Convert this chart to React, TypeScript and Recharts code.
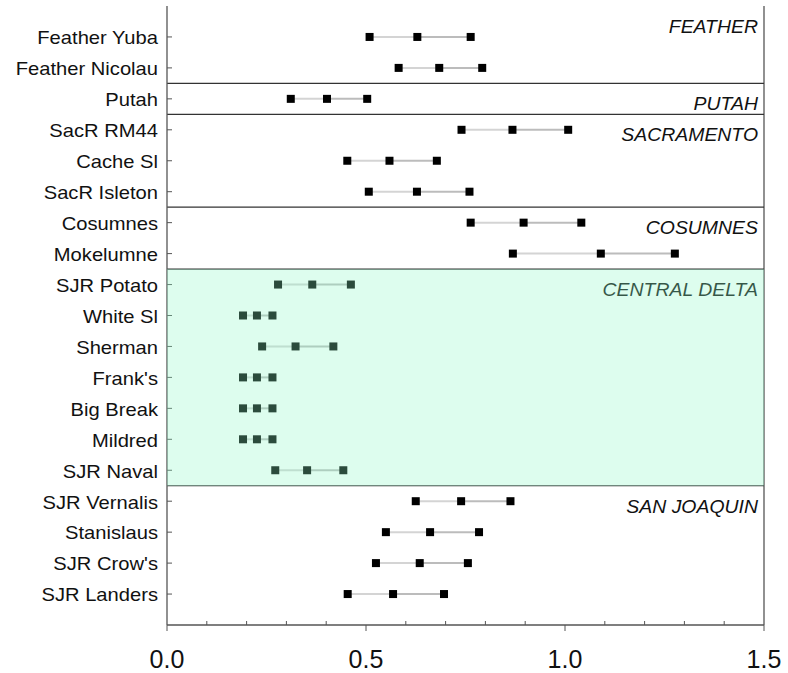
import React from "react";
import {
  ScatterChart,
  Scatter,
  XAxis,
  YAxis,
  ReferenceLine,
  ReferenceArea,
} from "recharts";

const sites = [
  "Feather Yuba",
  "Feather Nicolau",
  "Putah",
  "SacR RM44",
  "Cache Sl",
  "SacR Isleton",
  "Cosumnes",
  "Mokelumne",
  "SJR Potato",
  "White Sl",
  "Sherman",
  "Frank's",
  "Big Break",
  "Mildred",
  "SJR Naval",
  "SJR Vernalis",
  "Stanislaus",
  "SJR Crow's",
  "SJR Landers",
];

const lowVals = [0.509, 0.582, 0.311, 0.74, 0.453, 0.507, 0.763, 0.869, 0.279, 0.191, 0.239, 0.191, 0.191, 0.191, 0.272, 0.625, 0.55, 0.525, 0.454];
const midVals = [0.629, 0.684, 0.402, 0.868, 0.559, 0.628, 0.896, 1.09, 0.365, 0.226, 0.323, 0.226, 0.226, 0.226, 0.352, 0.739, 0.661, 0.635, 0.568];
const highVals = [0.763, 0.792, 0.503, 1.008, 0.678, 0.76, 1.041, 1.276, 0.462, 0.265, 0.418, 0.265, 0.265, 0.265, 0.443, 0.863, 0.784, 0.756, 0.696];

const xTicks = [0, 0.1, 0.2, 0.3, 0.4, 0.5, 0.6, 0.7, 0.8, 0.9, 1.0, 1.1, 1.2, 1.3, 1.4, 1.5];
const xLabels = ["0.0", "0.5", "1.0", "1.5"];

const groupNames = ["FEATHER", "PUTAH", "SACRAMENTO", "COSUMNES", "CENTRAL DELTA", "SAN JOAQUIN"];
const groupStarts = [0, 2.5, 3.5, 6.5, 8.5, 15.5];
const deltaRange = [8.5, 15.5];

const FONT = "'Liberation Sans', Arial, sans-serif";
const AXIS = "#555";

const rowPos = sites.map((_, i) => i + 1);
const points = sites.flatMap((_, i) => [
  { x: lowVals[i], y: i + 1 },
  { x: midVals[i], y: i + 1 },
  { x: highVals[i], y: i + 1 },
]);
const groupPts = groupNames.map((name, i) => ({ x: 1.5, y: groupStarts[i], name }));

const BottomTick = (props: any) => {
  const { x, y, payload } = props;
  const idx = xTicks.indexOf(payload.value);
  const major = idx % 5 === 0;
  return (
    <g>
      {major ? (
        <line x1={x} x2={x} y1={y} y2={y + 6} stroke={AXIS} />
      ) : (
        <line x1={x} x2={x} y1={y} y2={y - 4} stroke={AXIS} />
      )}
      {major && (
        <text x={x} y={y + 43} textAnchor="middle" fontSize={25} fontFamily={FONT} fill="#111">
          {xLabels[idx / 5]}
        </text>
      )}
    </g>
  );
};

const TopTick = (props: any) => {
  const { x, y, payload } = props;
  const major = xTicks.indexOf(payload.value) % 5 === 0;
  return <line x1={x} x2={x} y1={y} y2={y + (major ? 7 : 5)} stroke={AXIS} />;
};

const LeftTick = (props: any) => {
  const { x, y, payload } = props;
  return (
    <g>
      <line x1={x} x2={x + 5} y1={y} y2={y} stroke={AXIS} />
      <text
        transform={`translate(${x - 9},${y + 1}) scale(1.12,1)`}
        textAnchor="end"
        dy="0.35em"
        fontSize={18}
        fontFamily={FONT}
        fill="#111"
      >
        {sites[payload.value - 1]}
      </text>
    </g>
  );
};

const Square = (props: any) => (
  <rect x={props.cx - 4} y={props.cy - 4} width={8} height={8} fill="#000" />
);

const GroupLabel = (props: any) => (
  <text
    transform={`translate(${props.cx - 6},${props.cy + 27}) scale(1.08,1)`}
    textAnchor="end"
    fontSize={18}
    fontStyle="italic"
    fontFamily={FONT}
    fill="#111"
  >
    {props.payload.name}
  </text>
);

export default function App() {
  return (
    <div style={{ position: "absolute", left: 0, top: 0 }}>
      <ScatterChart
        width={788}
        height={673}
        margin={{ top: 6, right: 24, bottom: 0, left: 0 }}
      >
        <XAxis
          type="number"
          dataKey="x"
          domain={[0, 1.5]}
          ticks={xTicks}
          interval={0}
          tickSize={0}
          tickMargin={0}
          tickLine={false}
          tick={<BottomTick />}
          height={48}
          axisLine={{ stroke: AXIS, strokeWidth: 1.3 }}
        />
        <XAxis
          xAxisId="top"
          orientation="top"
          type="number"
          dataKey="x"
          domain={[0, 1.5]}
          ticks={xTicks}
          interval={0}
          tickSize={0}
          tickMargin={0}
          tickLine={false}
          tick={<TopTick />}
          height={0}
          axisLine={{ stroke: AXIS, strokeWidth: 1.3 }}
        />
        <YAxis
          type="number"
          dataKey="y"
          domain={[0, 20]}
          reversed
          ticks={rowPos}
          interval={0}
          tickSize={0}
          tickMargin={0}
          tickLine={false}
          tick={<LeftTick />}
          width={167}
          axisLine={{ stroke: AXIS, strokeWidth: 1.3 }}
        />
        <ReferenceLine x={1.5} stroke={AXIS} strokeWidth={1.3} />
        {groupStarts.slice(1).map((g) => (
          <ReferenceLine key={g} y={g} stroke="#333" strokeWidth={1.2} />
        ))}
        {sites.map((s, i) => (
          <ReferenceLine
            key={s + "a"}
            segment={[
              { x: lowVals[i], y: i + 1 },
              { x: midVals[i], y: i + 1 },
            ]}
            stroke="#d4d4d4"
            strokeWidth={2}
          />
        ))}
        {sites.map((s, i) => (
          <ReferenceLine
            key={s + "b"}
            segment={[
              { x: midVals[i], y: i + 1 },
              { x: highVals[i], y: i + 1 },
            ]}
            stroke="#bcbcbc"
            strokeWidth={2}
          />
        ))}
        <Scatter data={points} shape={<Square />} isAnimationActive={false} />
        <Scatter data={groupPts} shape={<GroupLabel />} isAnimationActive={false} />
        <ReferenceArea
          y1={deltaRange[0]}
          y2={deltaRange[1]}
          fill="rgb(143,247,200)"
          fillOpacity={0.3}
          stroke="none"
          ifOverflow="visible"
          zIndex={2500}
        />
      </ScatterChart>
    </div>
  );
}
